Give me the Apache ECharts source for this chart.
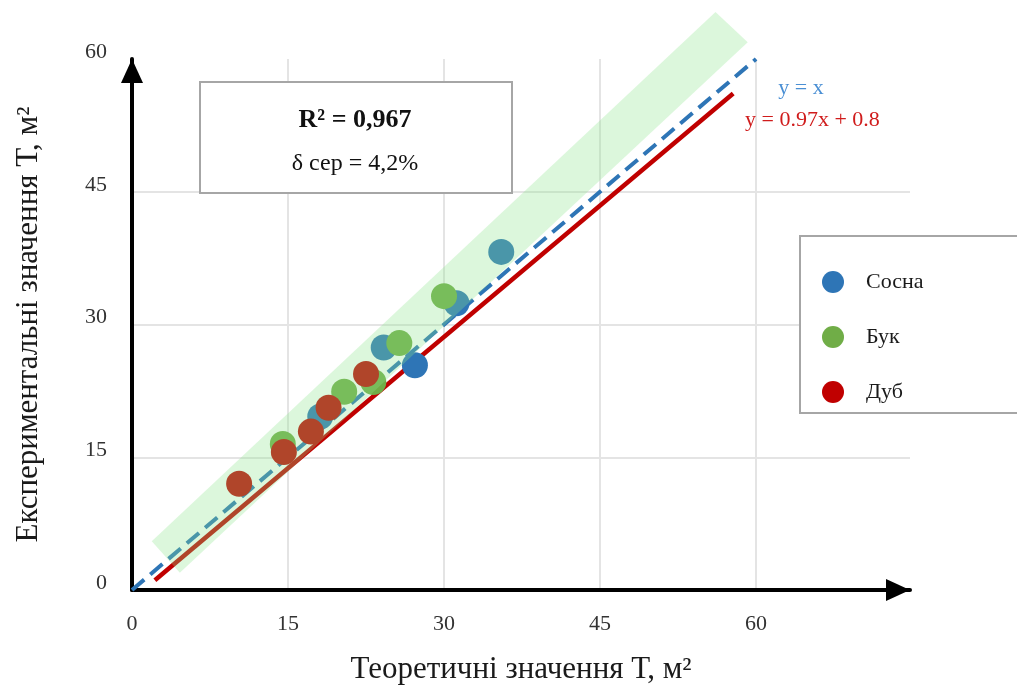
<!DOCTYPE html>
<html>
<head>
<meta charset="utf-8">
<script src="https://cdn.jsdelivr.net/npm/echarts@6/dist/echarts.min.js"></script>
<style>
  html, body { margin: 0; padding: 0; background: #fff; }
  #chart { width: 1017px; height: 686px; }
</style>
</head>
<body>
<div id="chart"></div>
<script>
// Measured surface areas: theoretical (x) vs experimental (y), m²
const pineX = [35.5, 31.2, 24.2, 27.2, 18.1];
const pineY = [38.2, 32.4, 27.4, 25.4, 19.6];
const beechX = [30.0, 25.7, 23.2, 20.4, 14.5];
const beechY = [33.2, 27.9, 23.5, 22.4, 16.5];
const oakX = [22.5, 18.9, 17.2, 14.6, 10.3];
const oakY = [24.4, 20.6, 17.9, 15.6, 12.0];

// Reference line y = x and the fitted trend line
const identityX = [0, 60];
const identityY = [0, 60];
const trendX = [2.2, 57.8];
const trendY = [1.1, 56.1];

// Tolerance band corners
const bandX = [1.9, 4.6, 59.2, 56.1];
const bandY = [5.5, 1.95, 61.9, 65.3];

const seriesNames = ['Сосна', 'Бук', 'Дуб'];
const tickValues = [0, 15, 30, 45, 60];

const zip = (xs, ys) => xs.map((x, i) => [x, ys[i]]);
const FONT = 'Liberation Serif';

const chart = echarts.init(document.getElementById('chart'));

const axisCommon = {
  type: 'value',
  min: 0,
  interval: 15,
  nameLocation: 'middle',
  nameTextStyle: { fontFamily: FONT, fontSize: 31, color: '#1a1a1a' },
  axisLine: {
    show: true,
    lineStyle: { color: '#000', width: 4 },
    symbol: ['none', 'triangle'],
    symbolSize: [22, 24],
    symbolOffset: [0, -12]
  },
  axisTick: { show: false },
  axisLabel: {
    fontFamily: FONT, fontSize: 22, color: '#333',
    formatter: v => (tickValues.indexOf(v) >= 0 ? String(v) : '')
  },
  splitLine: { show: true, showMaxLine: false, lineStyle: { color: '#e4e4e4', width: 2 } }
};

chart.setOption({
  animation: false,
  backgroundColor: '#fff',
  grid: { left: 132, right: 107, top: 59, bottom: 96, containLabel: false, outerBoundsMode: 'none' },
  xAxis: Object.assign({}, axisCommon, {
    max: 74.8,
    name: 'Теоретичні значення Т, м²',
    nameGap: 64,
    axisLabel: Object.assign({}, axisCommon.axisLabel, { margin: 23, showMaxLabel: false })
  }),
  yAxis: Object.assign({}, axisCommon, {
    max: 60,
    name: 'Експериментальні значення Т, м²',
    nameGap: 88,
    axisLabel: Object.assign({}, axisCommon.axisLabel, {
      margin: 25, verticalAlign: 'bottom', lineHeight: 14
    })
  }),
  legend: {
    data: seriesNames,
    orient: 'vertical',
    left: 800,
    top: 236,
    padding: [35, 140, 10, 22],
    itemGap: 33,
    itemWidth: 22,
    itemHeight: 22,
    icon: 'circle',
    borderColor: '#a6a6a6',
    borderWidth: 2,
    backgroundColor: '#fff',
    textStyle: { fontFamily: FONT, fontSize: 22, color: '#1a1a1a', padding: [0, 0, 0, 17] }
  },
  graphic: {
    elements: [
      {
        type: 'rect', z: 50, left: 199, top: 81,
        shape: { width: 312, height: 111 },
        style: { fill: '#fff', stroke: '#a6a6a6', lineWidth: 2 }
      },
      {
        type: 'text', z: 51, x: 355, y: 120,
        style: { text: 'R² = 0,967', fontFamily: FONT, fontSize: 26, fontWeight: 'bold',
                 fill: '#111', align: 'center', verticalAlign: 'middle' }
      },
      {
        type: 'text', z: 51, x: 355, y: 164,
        style: { text: 'δ сер = 4,2%', fontFamily: FONT, fontSize: 24,
                 fill: '#111', align: 'center', verticalAlign: 'middle' }
      },
      {
        type: 'text', z: 51, x: 801, y: 88,
        style: { text: 'y = x', fontFamily: FONT, fontSize: 22,
                 fill: '#4a8fd4', align: 'center', verticalAlign: 'middle' }
      },
      {
        type: 'text', z: 51, x: 745, y: 120,
        style: { text: 'y = 0.97x + 0.8', fontFamily: FONT, fontSize: 22,
                 fill: '#d01c1c', align: 'left', verticalAlign: 'middle' }
      }
    ]
  },
  series: [
    {
      name: 'y = x', type: 'line', z: 2, silent: true,
      data: zip(identityX, identityY), symbol: 'none',
      lineStyle: { color: '#2e75b6', width: 4, type: [16, 8] }
    },
    {
      name: 'trend', type: 'line', z: 2, silent: true,
      data: zip(trendX, trendY), symbol: 'none',
      lineStyle: { color: '#c00000', width: 4.5 }
    },
    {
      name: 'Сосна', type: 'scatter', z: 3, symbolSize: 26,
      data: zip(pineX, pineY), itemStyle: { color: '#2e75b6', opacity: 1 }
    },
    {
      name: 'Бук', type: 'scatter', z: 3, symbolSize: 26,
      data: zip(beechX, beechY), itemStyle: { color: '#70ad47', opacity: 1 }
    },
    {
      name: 'Дуб', type: 'scatter', z: 3, symbolSize: 26,
      data: zip(oakX, oakY), itemStyle: { color: '#c00000', opacity: 1 }
    },
    {
      name: 'band', type: 'custom', z: 6, silent: true, clip: false,
      coordinateSystem: 'cartesian2d',
      data: [[0, 0]],
      renderItem: function (params, api) {
        const pts = bandX.map((x, i) => api.coord([x, bandY[i]]));
        return {
          type: 'polygon',
          shape: { points: pts },
          style: { fill: 'rgba(138, 228, 138, 0.3)' }
        };
      }
    }
  ]
});
</script>
</body>
</html>
